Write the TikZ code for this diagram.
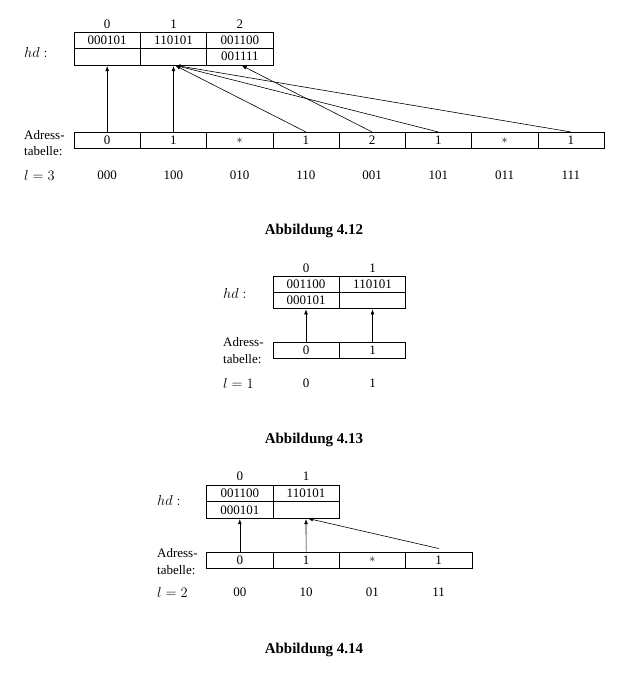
\documentclass[tikz,border=0pt]{standalone}
\usepackage{fontspec}
\setmainfont{Liberation Serif}
\usetikzlibrary{arrows.meta}
\begin{document}
\begin{tikzpicture}[x=1pt,y=-1pt,
 cell/.style={draw,line width=0.6pt,minimum width=66.3pt,minimum height=16.4pt,inner sep=0pt,font=\fontsize{13}{15}\selectfont},
 lbl/.style={inner sep=0pt,font=\fontsize{13}{15}\selectfont},
 side/.style={inner sep=0pt,anchor=west,font=\fontsize{13}{15}\selectfont},
 mathlbl/.style={inner sep=0pt,anchor=west,font=\fontsize{15}{18}\selectfont},
 title/.style={inner sep=0pt,font=\fontsize{15}{18}\selectfont\bfseries},
 ptr/.style={line width=0.6pt,shorten >=0.8pt,-{Latex[length=5pt,width=3.8pt]}}]
\useasboundingbox (0,0) rectangle (618,673);

% ---------- Abbildung 4.12 ----------
\node[lbl] (Acol0) at (107.2,24) {0};
\node[lbl] (Acol1) at (173.5,24) {1};
\node[lbl] (Acol2) at (239.8,24) {2};
\node[cell] (Ah00) at (107.2,40.3) {000101};
\node[cell] (Ah01) at (107.2,56.7) {};
\node[cell] (Ah10) at (173.5,40.3) {110101};
\node[cell] (Ah11) at (173.5,56.7) {};
\node[cell] (Ah20) at (239.8,40.3) {001100};
\node[cell] (Ah21) at (239.8,56.7) {001111};
\node[mathlbl] (Ahd) at (24,52) {$hd:$};
\foreach \i/\v/\b in {0/0/000,1/1/100,2/{$*$}/010,3/1/110,4/2/001,5/1/101,6/{$*$}/011,7/1/111} {
  \node[cell] (Aa\i) at ({107.2+66.25*\i},140.5) {\v};
  \node[lbl] (Ab\i) at ({107.2+66.25*\i},175) {\b};
}
\node[side] (Aadr1) at (24,135) {Adress-};
\node[side] (Aadr2) at (24,151.5) {tabelle:};
\node[mathlbl] (Al) at (24,175) {$l=3$};
\draw[ptr] (Aa0.north) -- (Ah01.south);
\draw[ptr] (Aa1.north) -- (Ah11.south);
\draw[ptr] (Aa3.north) -- ([xshift=1.2pt]Ah11.south);
\draw[ptr] (Aa4.north) -- ([xshift=1.2pt]Ah21.south);
\draw[ptr] (Aa5.north) -- ([xshift=1.2pt]Ah11.south);
\draw[ptr] (Aa7.north) -- ([xshift=1.2pt]Ah11.south);
\node[title] (At) at (314,231) {Abbildung 4.12};

% ---------- Abbildung 4.13 ----------
\node[lbl] (Bcol0) at (306,268) {0};
\node[lbl] (Bcol1) at (372.5,268) {1};
\node[cell] (Bh00) at (306,284) {001100};
\node[cell] (Bh01) at (306,300) {000101};
\node[cell] (Bh10) at (372.5,284) {110101};
\node[cell] (Bh11) at (372.5,300) {};
\node[mathlbl] (Bhd) at (223,293) {$hd:$};
\node[cell] (Ba0) at (306,350) {0};
\node[cell] (Ba1) at (372.5,350) {1};
\node[side] (Badr1) at (223,342.5) {Adress-};
\node[side] (Badr2) at (223,359) {tabelle:};
\node[mathlbl] (Bl) at (223,383) {$l=1$};
\node[lbl] (Bb0) at (306,383) {0};
\node[lbl] (Bb1) at (372.5,383) {1};
\draw[ptr] (Ba0.north) -- (Bh01.south);
\draw[ptr] (Ba1.north) -- (Bh11.south);
\node[title] (Bt) at (314,440) {Abbildung 4.13};

% ---------- Abbildung 4.14 ----------
\node[lbl] (Ccol0) at (239.8,476) {0};
\node[lbl] (Ccol1) at (306,476) {1};
\node[cell] (Ch00) at (239.8,493.3) {001100};
\node[cell] (Ch01) at (239.8,509.8) {000101};
\node[cell] (Ch10) at (306,493.3) {110101};
\node[cell] (Ch11) at (306,509.8) {};
\node[mathlbl] (Chd) at (157,500) {$hd:$};
\foreach \i/\v/\b in {0/0/00,1/1/10,2/{$*$}/01,3/1/11} {
  \node[cell] (Ca\i) at ({239.8+66.3*\i},560) {\v};
  \node[lbl] (Cb\i) at ({239.8+66.3*\i},592) {\b};
}
\node[side] (Cadr1) at (157,553) {Adress-};
\node[side] (Cadr2) at (157,570) {tabelle:};
\node[mathlbl] (Cl) at (157,592) {$l=2$};
\draw[ptr] (Ca0.north) -- (Ch01.south);
\draw[ptr] (Ca1.north) -- (Ch11.south);
\draw[ptr] ([yshift=3pt]Ca3.north) -- ([xshift=1.2pt]Ch11.south);
\node[title] (Ct) at (314,650) {Abbildung 4.14};
\end{tikzpicture}
\end{document}
